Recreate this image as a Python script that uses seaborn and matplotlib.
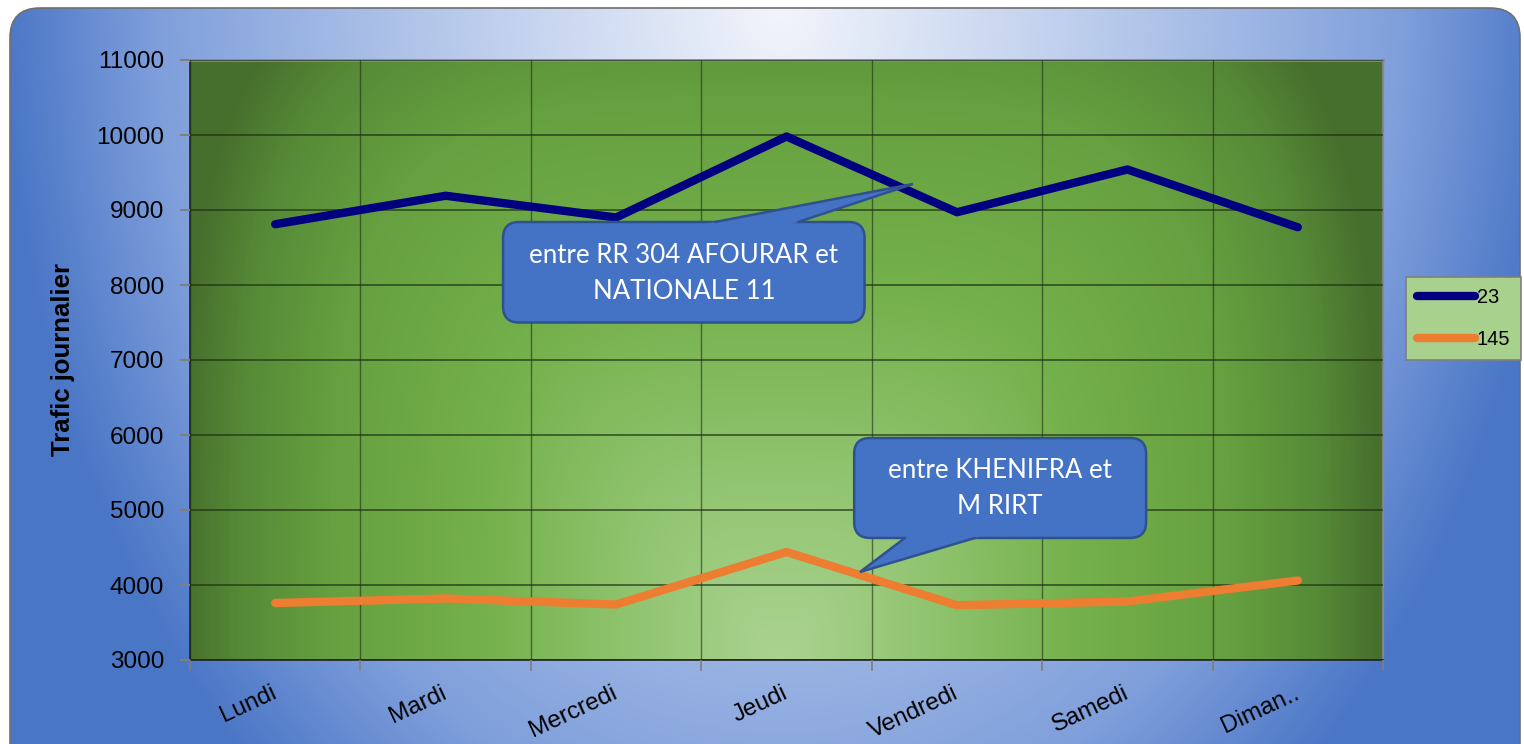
import numpy as np
import pandas as pd
import matplotlib
matplotlib.use("Agg")
import matplotlib.pyplot as plt
import seaborn as sns
from matplotlib.patches import FancyBboxPatch, Polygon
from matplotlib.colors import LinearSegmentedColormap
from matplotlib.ticker import FixedLocator

# ---------------- data ----------------
days = ["Lundi", "Mardi", "Mercredi", "Jeudi", "Vendredi", "Samedi", "Diman.."]
trafic_23 = [8810, 9190, 8900, 9980, 8970, 9540, 8770]
trafic_145 = [3760, 3820, 3740, 4440, 3730, 3780, 4060]
series_names = ["23", "145"]
y_ticks = list(range(3000, 11001, 1000))
y_label = "Trafic journalier"
callout_texts = ["entre RR 304 AFOURAR et\nNATIONALE 11", "entre KHENIFRA et\nM RIRT"]

sns.set_theme(style="white")
plt.rcParams['font.family'] = ['Liberation Sans', 'DejaVu Sans']

W, H = 1524, 744
fig = plt.figure(figsize=(W / 100, H / 100), dpi=100)
fig.patch.set_facecolor("white")

# ---------------- outer blue gradient rounded panel ----------------
bg = fig.add_axes([0, 0, 1, 1], zorder=0)
bg.set_xlim(0, W)
bg.set_ylim(H, 0)
bg.axis("off")
yy, xx = np.mgrid[0:H, 0:W]
d = np.sqrt(((xx - 780) / 780.0) ** 2 + (yy / 1050.0) ** 2)
cmap_bg = LinearSegmentedColormap.from_list(
    "bg", [(0, "#f2f5fb"), (0.45, "#b4c7ea"), (0.8, "#7f9fdb"), (1, "#4a76c6")])
img = bg.imshow(np.clip(d, 0, 1), cmap=cmap_bg, vmin=0, vmax=1,
                extent=(0, W, H, 0), aspect="auto", interpolation="bilinear")
panel = FancyBboxPatch((10, 8), 1510, 820, boxstyle="round,pad=0,rounding_size=30",
                       fc="none", ec="#6f6f6f", lw=1.2)
bg.add_patch(panel)
img.set_clip_path(panel)

# ---------------- main axes ----------------
ax = fig.add_axes([190 / W, 1 - 660 / H, (1383 - 190) / W, 600 / H], zorder=2)

# green gradient plot area (bright at bottom centre, darker towards edges)
gh, gw = 600, 1193
gy, gx = np.mgrid[0:gh, 0:gw]
u = np.abs(gx - 590) / 600.0
v = (600 - gy) / 600.0 * 0.8
p = 4.0
gd = (u ** p + v ** p) ** (1 / p)
cmap_g = LinearSegmentedColormap.from_list(
    "g", [(0, "#abd391"), (0.25, "#90c46f"), (0.5, "#74b04b"), (0.75, "#66a040"),
          (0.9, "#568a37"), (1, "#466e2c")])
ax.imshow(np.clip(gd, 0, 1), cmap=cmap_g, vmin=0, vmax=1,
          extent=(-0.5, 6.5, 3000, 11000), origin="upper", aspect="auto",
          interpolation="bilinear", zorder=0)

df = pd.DataFrame({
    "jour": days * 2,
    "trafic": trafic_23 + trafic_145,
    "route": [series_names[0]] * len(days) + [series_names[1]] * len(days),
})
sns.lineplot(data=df, x="jour", y="trafic", hue="route", sort=False,
             palette={series_names[0]: "#000080", series_names[1]: "#ed7d31"},
             linewidth=6, ax=ax, zorder=3, solid_capstyle="round")

ax.set_xlim(-0.5, 6.5)
ax.set_ylim(3000, 11000)
ax.set_yticks(y_ticks)
ax.set_yticklabels([str(v) for v in y_ticks], fontsize=17.5, color="black")
ax.set_xticks(range(len(days)))
ax.set_xticklabels(days, fontsize=17.5, rotation=25, ha="right", va="center",
                   rotation_mode="anchor", color="black")
ax.xaxis.set_minor_locator(FixedLocator([i - 0.5 for i in range(len(days) + 1)]))
ax.tick_params(axis="x", which="major", length=0, pad=23)
ax.tick_params(axis="x", which="minor", length=8, width=1.2, color="#7f7f7f", direction="out", bottom=True)
ax.tick_params(axis="y", which="major", length=7, width=1.5, color="#7f7f7f", direction="out", pad=11.5, left=True)
ax.set_xlabel("")
ax.set_ylabel(y_label, fontsize=18.5, fontweight="bold", color="black")
ax.yaxis.set_label_coords((75 - 190) / 1193, 0.5)

ax.grid(False)
ax.grid(True, axis="y", which="major", color="#1e2e14", alpha=0.75, lw=1.2)
ax.grid(True, axis="x", which="minor", color="#1e2e14", alpha=0.6, lw=1.0)
ax.set_axisbelow(False)

ax.spines["left"].set_color("#222222")
ax.spines["left"].set_linewidth(1.2)
ax.spines["bottom"].set_color("#222222")
ax.spines["bottom"].set_linewidth(1.2)
ax.spines["top"].set_color("#8a8a8a")
ax.spines["top"].set_linewidth(2)
ax.spines["right"].set_color("#8a8a8a")
ax.spines["right"].set_linewidth(1.6)

# legend
handles, labels = ax.get_legend_handles_labels()
leg = ax.legend(handles, labels, loc="upper left", bbox_to_anchor=(1.019, 0.638),
                borderaxespad=0, fontsize=14.4, frameon=True, fancybox=False,
                facecolor="#a9d18e", edgecolor="#7f7f7f", framealpha=1,
                handlelength=2.9, handletextpad=0.1, labelspacing=1.15, borderpad=0.55)
leg.get_frame().set_linewidth(1.2)
for t in leg.get_texts():
    t.set_color("#000000")

# ---------------- callouts (speech bubbles) ----------------
# each: box (x0, y0, x1, y1) in data units, wedge base x-range and tip in data units
callouts = [
    dict(text=callout_texts[0], box=(1.337, 7500, 3.458, 8840),
         base=(2.580, 3.068), tip=(3.742, 9347), side="top"),
    dict(text=callout_texts[1], box=(3.397, 4627, 5.110, 5960),
         base=(3.695, 4.106), tip=(3.431, 4173), side="bottom"),
]

ov = fig.add_axes([0, 0, 1, 1], zorder=5)
ov.set_xlim(0, W)
ov.set_ylim(H, 0)
ov.axis("off")
ov.patch.set_alpha(0)


def to_px(x, y):
    dx, dy = ax.transData.transform((x, y))
    return dx, H - dy


fill_c, edge_c = "#4472c4", "#2f528f"
for c in callouts:
    x0, y0, x1, y1 = c["box"]
    px0, py1 = to_px(x0, y0)
    px1, py0 = to_px(x1, y1)
    rect = FancyBboxPatch((px0, py0), px1 - px0, py1 - py0,
                          boxstyle="round,pad=0,rounding_size=16",
                          fc=fill_c, ec=edge_c, lw=1.8, zorder=1)
    ov.add_patch(rect)
    base_y = y1 if c["side"] == "top" else y0
    b1 = np.array(to_px(c["base"][0], base_y))
    b2 = np.array(to_px(c["base"][1], base_y))
    tp = np.array(to_px(*c["tip"]))
    ext = 5.0
    b1i = b1 + (b1 - tp) * ext / abs(b1[1] - tp[1])
    b2i = b2 + (b2 - tp) * ext / abs(b2[1] - tp[1])
    ov.add_patch(Polygon([b1i, tp, b2i], closed=True, fc=fill_c, ec="none", zorder=2))
    ov.plot([b1[0], tp[0], b2[0]], [b1[1], tp[1], b2[1]], color=edge_c, lw=1.8,
            solid_joinstyle="miter", zorder=3)
    ov.text((px0 + px1) / 2, (py0 + py1) / 2 + 1, c["text"], ha="center", va="center",
            color="white", fontsize=18.6, family=["Lato", "DejaVu Sans"],
            linespacing=1.55, zorder=4)

fig.savefig("out.png", dpi=100)
